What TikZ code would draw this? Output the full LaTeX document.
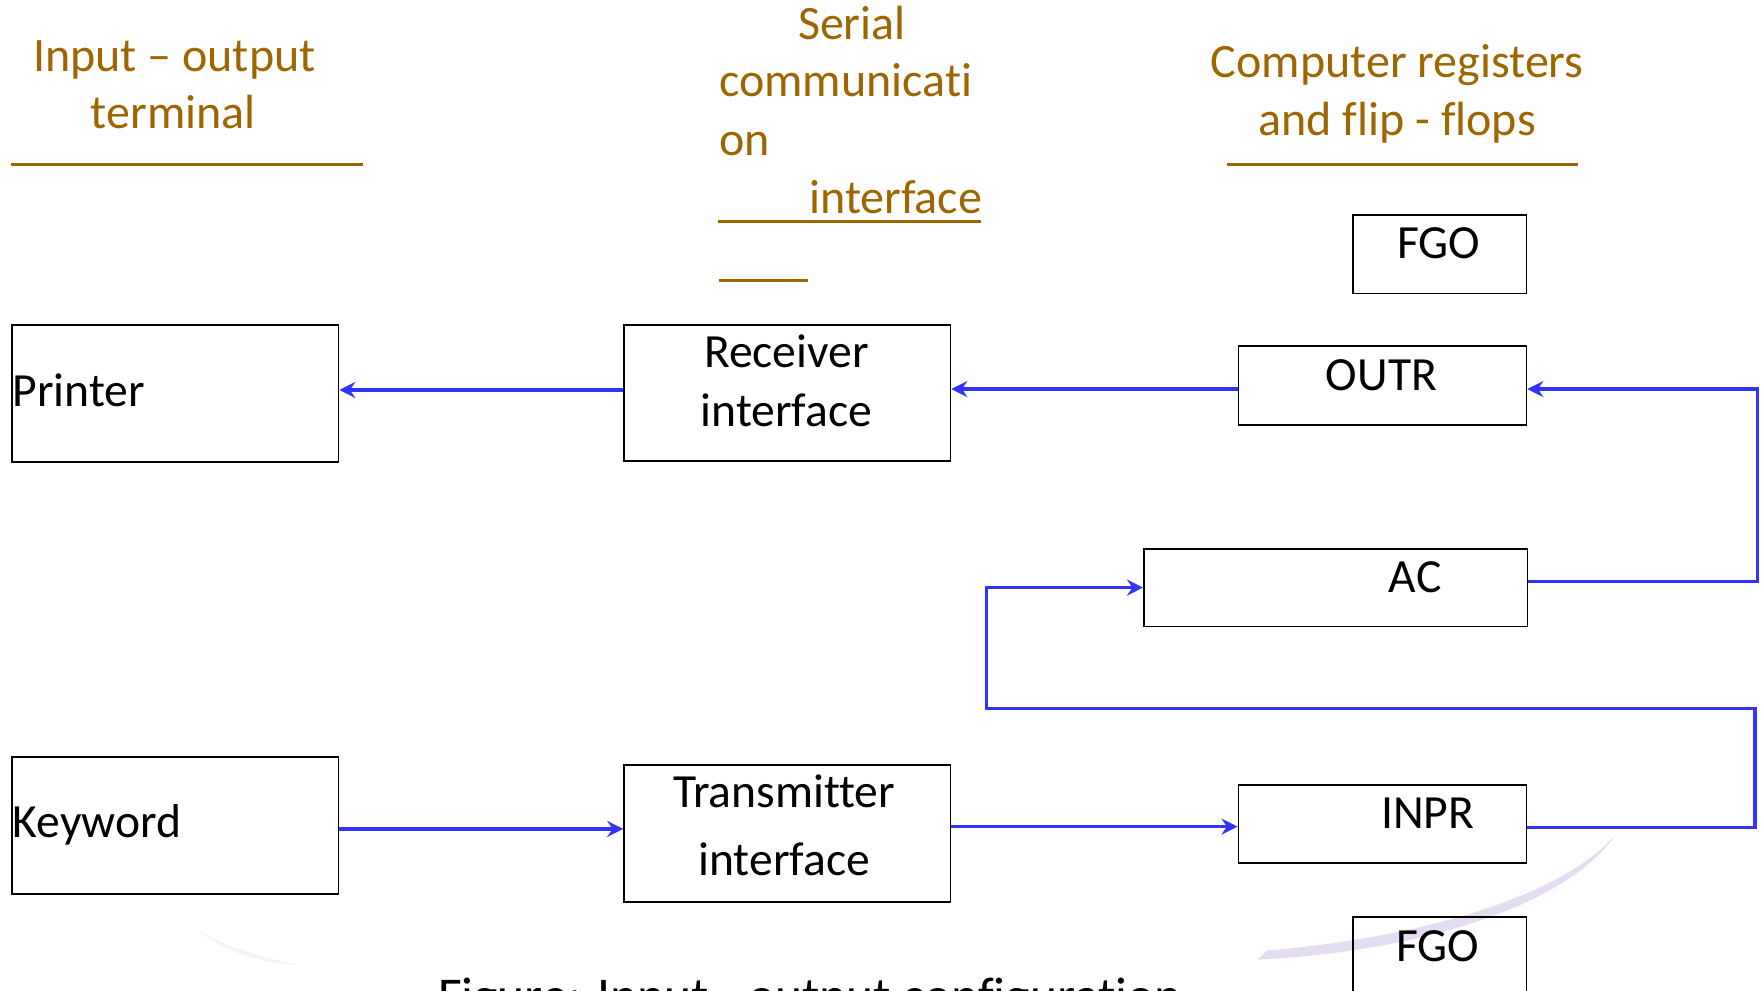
\documentclass[tikz,border=0pt]{standalone}
\usepackage{fontspec}
\setmainfont{Carlito}[Ligatures={NoCommon,NoRare,NoContextual}]
\usetikzlibrary{arrows.meta}
\definecolor{titlebrown}{RGB}{158,102,0}
\definecolor{wireblue}{RGB}{51,51,255}
\definecolor{swooshlilac}{RGB}{228,220,240}
\definecolor{swooshgrey}{RGB}{244,242,246}

\begin{document}
\begin{tikzpicture}[x=0.5625pt,y=-0.5625pt,
  box/.style n args={2}{draw=black,line width=0.9pt,anchor=north west,inner sep=0pt,
    minimum width=#1*0.5625pt,minimum height=#2*0.5625pt},
  lbl/.style={font=\fontsize{23.8}{28}\selectfont,inner sep=0pt,anchor=base},
  ttl/.style={font=\fontsize{24}{29}\selectfont,text=titlebrown,inner sep=0pt,anchor=base},
  rule/.style={draw=titlebrown,line width=1.6pt},
  wire/.style={draw=wireblue,line width=1.6pt},
  arr/.style={wire,-{Stealth[length=8pt,width=8pt,inset=2.7pt]}}]

\useasboundingbox (0,0) rectangle (1568,880);
\clip (0,0) rectangle (1568,880);

% faint background swooshes
\fill[swooshgrey] (175,826) .. controls (200,842) and (235,852) .. (268,858)
  .. controls (232,856) and (198,846) .. (175,826) -- cycle;
\fill[swooshlilac] (1118,853) .. controls (1260,846) and (1392,806) .. (1436,742)
  .. controls (1385,800) and (1255,834) .. (1126,845) -- cycle;

% column headings
\node[ttl] (h1a) at (155,64) {Input – output};
\node[ttl] (h1b) at (154,114) {terminal};
\path[rule] (10,146) -- (323,146);

\node[ttl,anchor=base west] (h2a) at (709,35) {Serial};
\node[ttl,anchor=base west] (h2b) at (639,86) {communicati};
\node[ttl,anchor=base west] (h2c) at (639,138) {on};
\node[ttl,anchor=base west] (h2d) at (719,190) {interface};
\path[rule] (638,197) -- (872,197);
\path[rule] (639,249) -- (718,249);

\node[ttl] (h3a) at (1242,69) {Computer registers};
\node[ttl] (h3b) at (1242,120) {and flip - flops};
\path[rule] (1091,146) -- (1403,146);

% boxes
\node[box={290}{122}] (printer) at (10,288) {};
\node[box={290}{121}] (rcv) at (554,288) {};
\node[box={154}{70}] (fgotop) at (1202,190) {};
\node[box={256}{70}] (outr) at (1100,307) {};
\node[box={341}{69}] (ac) at (1016,487) {};
\node[box={290}{122}] (kbd) at (10,672) {};
\node[box={290}{122}] (xmt) at (554,679) {};
\node[box={256}{69}] (inpr) at (1100,697) {};
\node[box={154}{100}] (fgobot) at (1202,814) {};

% box texts
\node[lbl,anchor=base west] (printertxt) at (11,361) {Printer};
\node[lbl,anchor=base west] (kbdtxt) at (11,744) {Keyword};
\node[lbl] (rcvtxta) at (699,327) {Receiver};
\node[lbl] (rcvtxtb) at (699,379) {interface};
\node[lbl] (xmttxta) at (697,718) {Transmitter};
\node[lbl] (xmttxtb) at (697,778) {interface};
\node[lbl] (fgotoptxt) at (1279,230) {FGO};
\node[lbl] (outrtxt) at (1228,347) {OUTR};
\node[lbl] (actxt) at (1258,527) {AC};
\node[lbl] (inprtxt) at (1269,736) {INPR};
\node[lbl] (fgobottxt) at (1278,855) {FGO};

% caption
\node[inner sep=0pt,anchor=base,font=\fontsize{25.8}{30}\selectfont] (caption) at (720,901)
  {Figure: Input - output configuration};

% connectors
\coordinate (acturn) at (1562,430);
\coordinate (rr) at (1560,630);
\coordinate (ll) at (877,630);

\draw[arr] ([yshift=1.5pt]rcv.west) -- ([yshift=1.5pt]rcv.west -| printer.east);
\draw[arr] ([yshift=-1.7pt]outr.west) -- ([yshift=-1.7pt]outr.west -| rcv.east);
\draw[arr] ([yshift=3pt]ac.east) -| (acturn) |- ([yshift=-1.7pt]outr.east);
\draw[arr] ([yshift=-2pt]inpr.east) -| (rr) -- (ll) |- (ac.west);
\draw[arr] ([yshift=-1.7pt]kbd.east) -- ([yshift=-1.7pt]kbd.east -| xmt.west);
\draw[arr] ([yshift=3.4pt]xmt.east) -- ([yshift=3.4pt]xmt.east -| inpr.west);
\end{tikzpicture}
\end{document}
